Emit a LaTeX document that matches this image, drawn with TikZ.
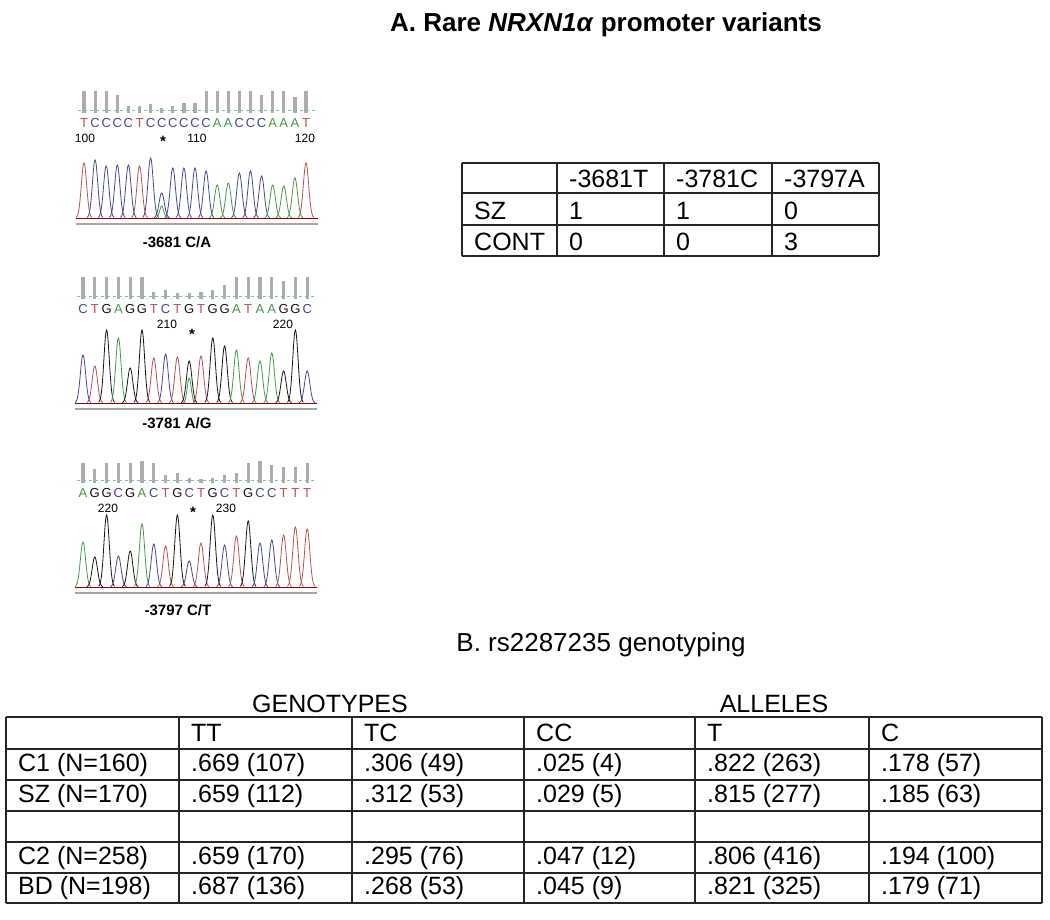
\documentclass[tikz,border=0pt]{standalone}
\usepackage{fontspec}
\setmainfont{Liberation Sans}
\usetikzlibrary{positioning}
\definecolor{baseA}{RGB}{70,150,70}
\definecolor{baseC}{RGB}{70,70,150}
\definecolor{baseG}{RGB}{20,20,20}
\definecolor{baseT}{RGB}{185,80,80}
\tikzset{
  seq/.style={font=\fontsize{13}{13}\selectfont, inner sep=0pt},
  posnum/.style={font=\fontsize{12}{12}\selectfont, inner sep=0pt},
  varlab/.style={font=\fontsize{15}{15}\selectfont\bfseries, inner sep=0pt},
  cell/.style={font=\fontsize{25}{25}\selectfont, anchor=west, inner sep=0pt},
  tabline/.style={line width=1.4pt, draw=black!85},
}
% #1 name, #2 x0, #3 letter y, #4 baseline, #5 spacing, #6 base/peak/bar list
\newcommand{\chromatogram}[6]{%
  \foreach \b/\h/\t [count=\i from 0] in {#6}{
    \pgfmathsetmacro{\px}{#2+\i*#5}
    \draw[base\b, line width=0.8pt] plot[domain=-8:8, samples=29, smooth] ({\px+\x},{#4-\h*exp(-\x*\x/14)});
    \fill[gray!65] (\px-1.6,#3-10) rectangle (\px+1.6,#3-10-\t);
    \node[seq, text=base\b] (#1s\i) at (\px,#3) {\b};
  }
  \draw[teal!50, dashed, line width=0.8pt] (#2-6,#3-13) coordinate (#1d0) -- ++(240,0);
  \draw[red!50!black, line width=0.6pt] (#2-8,#4) -- ++(242,0);
  \draw[gray!70, line width=1.6pt] (#2-8,#4+6) -- ++(242,0);
}
\begin{document}
\begin{tikzpicture}[x=1pt, y=-1pt]
\useasboundingbox (0,0) rectangle (1050,920);
% title A
\node[font=\fontsize{26}{26}\selectfont\bfseries] (titA) at (606,25) {A. Rare \textit{NRXN1α} promoter variants};

% chromatograms
\chromatogram{c1}{84}{123}{218}{11.1}{T/55/22, C/58/22, C/52/22, C/53/18, C/53/7, T/52/7, C/60/9, C/25/5, C/50/7, C/50/10, C/50/10, C/47/22, A/33/22, A/35/22, C/45/22, C/47/22, C/42/18, A/33/22, A/32/22, A/40/16, T/55/22}
\draw[baseA, line width=0.8pt] plot[domain=-6:6, samples=20, smooth] ({84+7*11.1+\x},{218-12*exp(-\x*\x/8)});
\node[posnum] (c1n0) at (85,138) {100};
\node[posnum] (c1n1) at (197,138) {110};
\node[posnum] (c1n2) at (305,138) {120};
\node[varlab] (c1star) at (163,141) {*};
\node[varlab] (c1lab) at (177,242) {-3681 C/A};

\chromatogram{c2}{83}{309}{403}{11.8}{C/48/22, T/37/22, G/73/22, A/65/22, G/35/22, G/73/22, T/45/7, C/49/9, T/46/6, G/42/6, T/47/7, G/65/9, G/57/14, A/53/22, T/45/22, A/42/22, A/50/22, G/32/18, G/73/22, C/32/22}
\draw[baseA, line width=0.8pt] plot[domain=-6:6, samples=20, smooth] ({83+9*11.8+\x},{403-25*exp(-\x*\x/8)});
\node[posnum] (c2n0) at (167,324) {210};
\node[posnum] (c2n1) at (283,324) {220};
\node[varlab] (c2star) at (192,334) {*};
\node[varlab] (c2lab) at (177,423) {-3781 A/G};

\chromatogram{c3}{83}{493}{587}{11.8}{A/45/20, G/30/14, G/72/20, C/31/20, G/36/20, A/63/22, C/43/20, T/41/8, G/72/10, C/26/5, T/44/4, G/72/5, C/42/8, T/51/10, G/66/20, C/44/22, C/47/18, T/52/16, T/60/16, T/58/20}
\node[posnum] (c3n0) at (108,508) {220};
\node[posnum] (c3n1) at (226,508) {230};
\node[varlab] (c3star) at (193,512) {*};
\node[varlab] (c3lab) at (178,610) {-3797 C/T};

% table A
\foreach \yy in {163,193,225,256} \draw[tabline] (462,\yy) -- (879,\yy);
\foreach \xx in {462,557,664,772,879} \draw[tabline] (\xx,163) -- (\xx,256);
\foreach \txt/\cx [count=\i] in {-3681T/557,-3781C/664,-3797A/772}
  \node[cell] (ta0\i) at (\cx+12,179) {\txt};
\foreach \row/\a/\b/\c [count=\j] in {SZ/1/1/0, CONT/0/0/3}{
  \pgfmathsetmacro{\cy}{179+\j*31.5}
  \node[cell] (ta\j0) at (474,\cy) {\row};
  \node[cell] (ta\j1) at (569,\cy) {\a};
  \node[cell] (ta\j2) at (676,\cy) {\b};
  \node[cell] (ta\j3) at (784,\cy) {\c};
}

% table B
\node[font=\fontsize{26}{26}\selectfont] (titB) at (601,645) {B. rs2287235 genotyping};
\node[font=\fontsize{25}{25}\selectfont] (geno) at (330,704) {GENOTYPES};
\node[font=\fontsize{25}{25}\selectfont] (alle) at (774,704) {ALLELES};
\foreach \yy in {717,749,780,811,842,873,903} \draw[tabline] (6,\yy) -- (1042,\yy);
\foreach \xx in {6,179,352,524,695,869,1042} \draw[tabline] (\xx,717) -- (\xx,903);
\foreach \txt/\cx [count=\i] in {TT/179,TC/352,CC/524,T/695,C/869}
  \node[cell] (tb0\i) at (\cx+12,733) {\txt};
\foreach \row/\a/\b/\c/\d/\e/\cy [count=\j] in {
  C1 (N=160)/.669 (107)/.306 (49)/.025 (4)/.822 (263)/.178 (57)/765,
  SZ (N=170)/.659 (112)/.312 (53)/.029 (5)/.815 (277)/.185 (63)/796,
  C2 (N=258)/.659 (170)/.295 (76)/.047 (12)/.806 (416)/.194 (100)/858,
  BD (N=198)/.687 (136)/.268 (53)/.045 (9)/.821 (325)/.179 (71)/888}{
  \node[cell] (tb\j0) at (18,\cy) {\row};
  \node[cell] (tb\j1) at (191,\cy) {\a};
  \node[cell] (tb\j2) at (364,\cy) {\b};
  \node[cell] (tb\j3) at (536,\cy) {\c};
  \node[cell] (tb\j4) at (707,\cy) {\d};
  \node[cell] (tb\j5) at (881,\cy) {\e};
}
\end{tikzpicture}
\end{document}
